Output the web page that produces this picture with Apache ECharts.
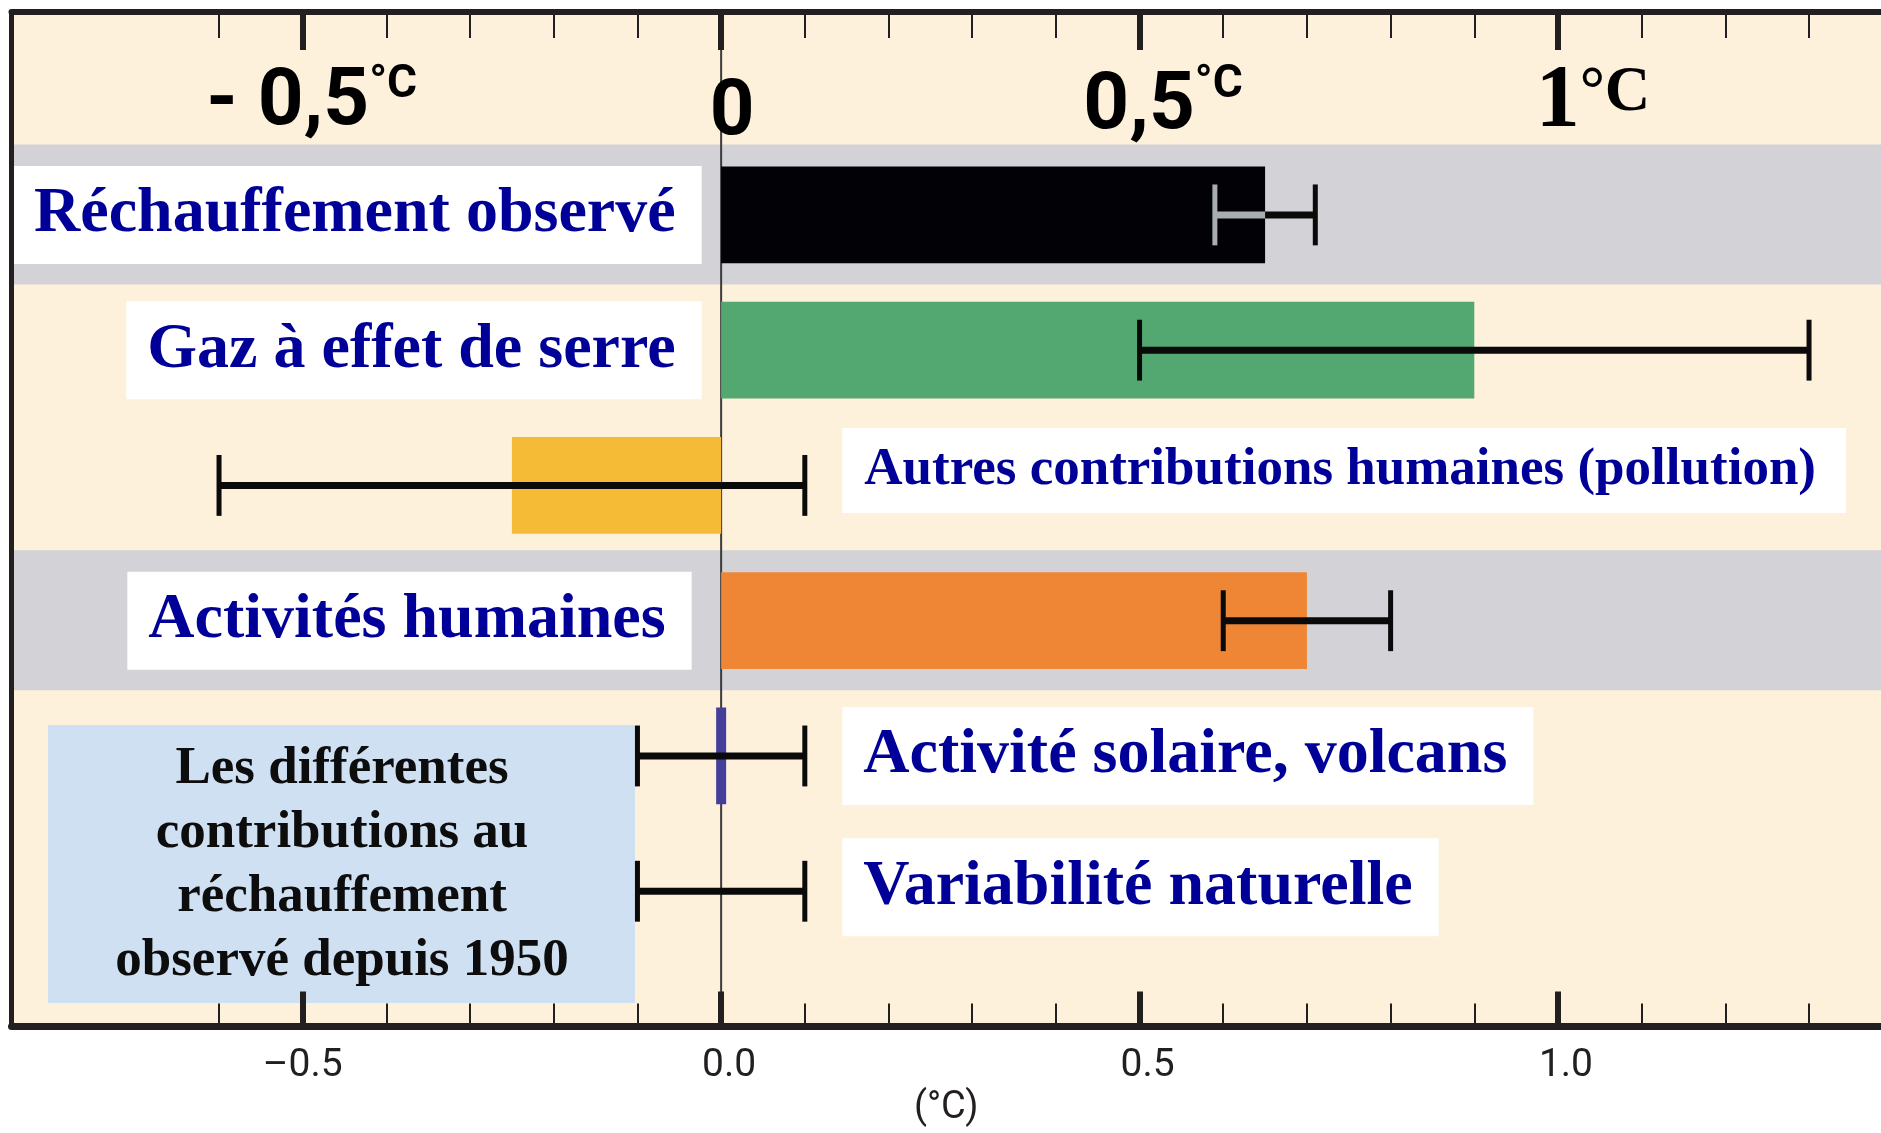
<!DOCTYPE html>
<html>
<head>
<meta charset="utf-8">
<title>Contributions au réchauffement observé depuis 1950</title>
<script src="https://cdn.jsdelivr.net/npm/echarts@6.0.0/dist/echarts.min.js"></script>
<style>
  html, body { margin: 0; padding: 0; background: #fff; }
  #chart { width: 1881px; height: 1133px; }
</style>
</head>
<body>
<div id="chart"></div>
<script>
// rows, from top to bottom
var categories = ['Réchauffement observé', 'Gaz à effet de serre', 'Autres contributions humaines (pollution)',
  'Activités humaines', 'Activité solaire, volcans', 'Variabilité naturelle'];
var bestValues = [0.65, 0.9, -0.25, 0.7, 0.0, null];
var lowValues = [0.59, 0.5, -0.6, 0.6, -0.1, -0.1];
var highValues = [0.71, 1.3, 0.1, 0.8, 0.1, 0.1];
var highlightedRows = ['Réchauffement observé', 'Activités humaines'];

var majorTicks = [-0.5, 0, 0.5, 1];
var minorTicks = [-0.6, -0.4, -0.3, -0.2, -0.1, 0.1, 0.2, 0.3, 0.4, 0.6, 0.7, 0.8, 0.9, 1.1, 1.2, 1.3];
var topTickLabels = ['- 0,5', '0', '0,5', '1'];
var bottomTickLabels = ['–0.5', '0.0', '0.5', '1.0'];
var noteLines = ['Les différentes', 'contributions au', 'réchauffement', 'observé depuis 1950'];

var barColors = ['#020106', '#53a872', '#f5bb37', '#ee8636', '#463e9b', null];
var frameColor = '#231f20';
var serif = '"Liberation Serif", "Times New Roman", serif';
var sans = 'Roboto, "Liberation Sans", sans-serif';

var chart = echarts.init(document.getElementById('chart'));

function tickIndex(v) {
  for (var k = 0; k < majorTicks.length; k++) {
    if (Math.abs(majorTicks[k] - v) < 1e-6) return k;
  }
  return -1;
}

function xAxisBase(pos) {
  return {
    type: 'value', position: pos, min: -0.848, max: 1.386, z: 5,
    splitLine: { show: false },
    axisLine: { show: false, onZero: false },
    axisTick: { show: false },
    axisLabel: { show: false }
  };
}

var topMajor = xAxisBase('top');
topMajor.axisLine = { show: true, onZero: false, lineStyle: { color: frameColor, width: 6 } };
topMajor.axisTick = { show: true, inside: true, length: 38, customValues: majorTicks, lineStyle: { color: frameColor, width: 6 } };
topMajor.axisLabel = {
  show: true, inside: true, margin: 50, customValues: majorTicks,
  formatter: function (v) {
    var k = tickIndex(v);
    if (k === 0) return '{m|' + topTickLabels[0] + '}{d1|°C}';
    if (k === 1) return '{z|' + topTickLabels[1] + '}';
    if (k === 2) return '{h|' + topTickLabels[2] + '}{d2|°C}';
    return '{t|' + topTickLabels[3] + '}{u|°C}';
  },
  rich: {
    m: { fontFamily: sans, fontWeight: 'bold', fontSize: 80, lineHeight: 84, color: '#000', padding: [0, 0, 0, 18] },
    d1: { fontFamily: sans, fontWeight: 'bold', fontSize: 46, lineHeight: 50, color: '#000', verticalAlign: 'top' },
    h: { fontFamily: sans, fontWeight: 'bold', fontSize: 80, lineHeight: 92, color: '#000', padding: [0, 0, 0, 47] },
    d2: { fontFamily: sans, fontWeight: 'bold', fontSize: 46, lineHeight: 58, color: '#000', verticalAlign: 'top' },
    z: { fontFamily: sans, fontWeight: 'bold', fontSize: 78, lineHeight: 104, color: '#000', padding: [0, 0, 0, 22] },
    t: { fontFamily: serif, fontWeight: 'bold', fontSize: 88, lineHeight: 80, color: '#000', padding: [0, 0, 0, 70] },
    u: { fontFamily: serif, fontWeight: 'bold', fontSize: 63, lineHeight: 47, color: '#000', verticalAlign: 'top' }
  }
};

var topMinor = xAxisBase('top');
topMinor.axisTick = { show: true, inside: true, length: 26, customValues: minorTicks, lineStyle: { color: frameColor, width: 2 } };

var bottomMajor = xAxisBase('bottom');
bottomMajor.axisLine = { show: true, onZero: false, lineStyle: { color: frameColor, width: 7 } };
bottomMajor.axisTick = { show: true, inside: true, length: 35, customValues: majorTicks, lineStyle: { color: frameColor, width: 6 } };
bottomMajor.axisLabel = {
  show: true, margin: 20, customValues: majorTicks,
  formatter: function (v) {
    var k = tickIndex(v);
    return k === 0 ? '{n|' + bottomTickLabels[0] + '}' : '{p|' + bottomTickLabels[k] + '}';
  },
  rich: {
    n: { fontFamily: sans, fontSize: 39, lineHeight: 39, color: frameColor },
    p: { fontFamily: sans, fontSize: 39, lineHeight: 39, color: frameColor, padding: [0, 0, 0, 16] }
  }
};
bottomMajor.name = '(°C)';
bottomMajor.nameLocation = 'middle';
bottomMajor.nameGap = 63;
bottomMajor.nameMoveOverlap = false;
bottomMajor.nameTextStyle = { fontFamily: sans, fontSize: 38, lineHeight: 38, color: frameColor };

var bottomMinor = xAxisBase('bottom');
bottomMinor.axisTick = { show: true, inside: true, length: 23, customValues: minorTicks, lineStyle: { color: frameColor, width: 2 } };

var rowData = categories.map(function (name, i) {
  return [i + 1, lowValues[i], highValues[i], bestValues[i] == null ? '-' : bestValues[i], i];
});

var labelData = categories.map(function (name, i) {
  var onLeft = bestValues[i] != null && bestValues[i] > 0.3;
  var small = name.length > 30;
  return {
    name: name,
    value: [onLeft ? 0 : highValues[i], i + 1],
    label: {
      position: onLeft ? 'left' : 'right',
      distance: onLeft ? (i === 3 ? 29 : 19) : 37,
      fontSize: small ? 53 : 64,
      lineHeight: small ? 53 : 64,
      padding: small ? [17, 30, 15, 22] : [19, 26, 15, 21],
      offset: small ? [0, -15] : (i === 5 ? [0, -4] : [0, 0])
    }
  };
});

var option = {
  animation: false,
  backgroundColor: '#ffffff',
  grid: {
    left: 11.5, right: 0, top: 12, bottom: 106.5,
    show: true, backgroundColor: '#fdf1dc', borderWidth: 0,
    outerBoundsMode: 'none'
  },
  xAxis: [topMajor, topMinor, bottomMajor, bottomMinor],
  yAxis: {
    type: 'value', min: -0.5, max: 7, inverse: true, z: 5,
    axisLine: { show: true, onZero: false, lineStyle: { color: frameColor, width: 5 } },
    axisTick: { show: false }, axisLabel: { show: false }, splitLine: { show: false }
  },
  graphic: [{
    type: 'group', left: 48, top: 725, z: 10, silent: true,
    children: [
      { type: 'rect', shape: { x: 0, y: 0, width: 587, height: 278 }, style: { fill: '#cfe0f2' } },
      {
        type: 'text', x: 294, y: 140,
        style: {
          text: noteLines.join('\n'), fill: '#0d0d0d', align: 'center', verticalAlign: 'middle',
          fontFamily: serif, fontWeight: 'bold', fontSize: 53, lineHeight: 64
        }
      }
    ]
  }],
  series: [
    {
      // grey bands behind the two summary rows
      type: 'custom', z: 1, silent: true,
      data: highlightedRows.map(function (n) { return [0, categories.indexOf(n) + 1]; }),
      encode: { x: 0, y: 1 },
      renderItem: function (params, api) {
        var row = api.value(1);
        var y0 = api.coord([0, row - 0.52])[1];
        var y1 = api.coord([0, row + 0.515])[1];
        var cs = params.coordSys;
        return { type: 'rect', shape: { x: cs.x, y: y0, width: cs.width, height: y1 - y0 }, style: { fill: '#d3d2d7' } };
      }
    },
    {
      // zero line
      type: 'custom', z: 2, silent: true,
      data: [[0, -0.5]],
      encode: { x: 0, y: 1 },
      renderItem: function (params, api) {
        var a = api.coord([0, -0.5]), b = api.coord([0, 7]);
        return { type: 'line', shape: { x1: a[0], y1: a[1], x2: b[0], y2: b[1] }, style: { stroke: '#3b3b3b', lineWidth: 2 } };
      }
    },
    {
      // bars + uncertainty ranges
      type: 'custom', z: 3, silent: true,
      data: rowData,
      encode: { y: 0, x: [1, 2] },
      renderItem: function (params, api) {
        var row = api.value(0), lo = api.value(1), hi = api.value(2), best = api.value(3), i = api.value(4);
        var band = api.size([0, 1])[1];
        var yc = api.coord([0, row])[1];
        var x0 = api.coord([0, row])[0];
        var color = barColors[i];
        var kids = [];
        var xb = null;
        if (color && !isNaN(best)) {
          xb = api.coord([best, row])[0];
          var left = Math.min(x0, xb), w = Math.abs(xb - x0);
          if (w < 6) { left = x0 - 5; w = 10; }
          kids.push({ type: 'rect', shape: { x: left, y: yc - band * 0.3575, width: w, height: band * 0.715 }, style: { fill: color } });
        }
        var xl = api.coord([lo, row])[0], xh = api.coord([hi, row])[0];
        var cap = band * 0.225;
        var ink = '#0a0a0a';
        var loInk = ink;
        if (color === barColors[0] && xb !== null && xb > xl) {
          loInk = '#a9adad';
          kids.push({ type: 'line', shape: { x1: xl, y1: yc, x2: xb, y2: yc }, style: { stroke: loInk, lineWidth: 7 } });
          kids.push({ type: 'line', shape: { x1: xb, y1: yc, x2: xh, y2: yc }, style: { stroke: ink, lineWidth: 7 } });
        } else {
          kids.push({ type: 'line', shape: { x1: xl, y1: yc, x2: xh, y2: yc }, style: { stroke: ink, lineWidth: 7 } });
        }
        kids.push({ type: 'line', shape: { x1: xl, y1: yc - cap, x2: xl, y2: yc + cap }, style: { stroke: loInk, lineWidth: 5 } });
        kids.push({ type: 'line', shape: { x1: xh, y1: yc - cap, x2: xh, y2: yc + cap }, style: { stroke: ink, lineWidth: 5 } });
        return { type: 'group', children: kids };
      }
    },
    {
      // row labels in white boxes
      type: 'scatter', z: 4, silent: true,
      symbolSize: 1,
      itemStyle: { color: 'rgba(0,0,0,0)', opacity: 1 },
      data: labelData,
      label: {
        show: true, formatter: '{b}', color: '#000098', opacity: 1,
        fontFamily: serif, fontWeight: 'bold', backgroundColor: '#ffffff'
      }
    }
  ]
};

chart.setOption(option);
</script>
</body>
</html>
